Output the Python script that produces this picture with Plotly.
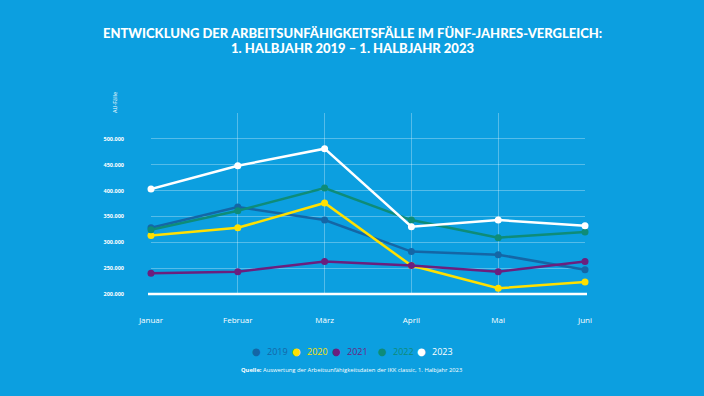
import plotly.graph_objects as go

months = ["Januar", "Februar", "März", "April", "Mai", "Juni"]
years = ["2019", "2020", "2021", "2022", "2023"]
v2019 = [328000, 368000, 343000, 282000, 276000, 247000]
v2020 = [313000, 328000, 376000, 255000, 211000, 223000]
v2021 = [240000, 243000, 263000, 255000, 243000, 263000]
v2022 = [324000, 361000, 405000, 343000, 309000, 320000]
v2023 = [403000, 448000, 481000, 330000, 343000, 332000]
series = [v2019, v2020, v2021, v2022, v2023]
colors = ["#1466A6", "#FFE000", "#6B1F7E", "#0E8C78", "#FFFFFF"]
tickvals = [200000, 250000, 300000, 350000, 400000, 450000, 500000, 550000]
ticktext = ["200.000", "250.000", "300.000", "350.000", "400.000", "450.000", "500.000", ""]

BG = "#0C9FE0"
L, R, T, B = 151, 119, 113, 102
pw = 704 - L - R
ph = 396 - T - B


def px(x):
    return (x - L) / pw


def py(y):
    return (396 - B - y) / ph


fig = go.Figure()
for yr, vals, c in zip(years, series, colors):
    fig.add_trace(go.Scatter(
        x=months, y=vals, mode="lines+markers", name=yr, showlegend=False,
        line=dict(color=c, width=2.5), marker=dict(color=c, size=7),
        cliponaxis=False))

annotations = [
    dict(text="AU-Fälle", x=px(115), y=py(103), xref="paper", yref="paper",
         xanchor="center", yanchor="middle",
         showarrow=False, textangle=-90, font=dict(size=5.5, color="white")),
    dict(text="<b>Quelle:</b> Auswertung der Arbeitsunfähigkeitsdaten der IKK classic, 1. Halbjahr 2023",
         x=px(351), y=py(370), xref="paper", yref="paper", xanchor="center",
         yanchor="middle", showarrow=False, font=dict(size=5.8, color="white")),
    dict(text="ENTWICKLUNG DER ARBEITSUNFÄHIGKEITSFÄLLE IM FÜNF-JAHRES-VERGLEICH:",
         x=px(352), y=py(33), xref="paper", yref="paper", xanchor="center",
         yanchor="middle", showarrow=False,
         font=dict(family="Lato", size=13, color="white", weight=900)),
    dict(text="1. HALBJAHR 2019 – 1. HALBJAHR 2023",
         x=px(352), y=py(48), xref="paper", yref="paper", xanchor="center",
         yanchor="middle", showarrow=False,
         font=dict(family="Lato", size=13, color="white", weight=900)),
]
legend_x = [256, 296, 336, 382, 421]
for yr, c, lx in zip(years, colors, legend_x):
    annotations.append(dict(text="●", x=px(lx), y=py(351), xref="paper", yref="paper",
                            xanchor="center", yanchor="middle", showarrow=False,
                            font=dict(family="DejaVu Sans", size=10, color=c)))
    annotations.append(dict(text=yr, x=px(lx + 9), y=py(351), xref="paper", yref="paper",
                            xanchor="left", yanchor="middle", showarrow=False,
                            font=dict(size=9, color=c)))

fig.update_layout(
    width=704, height=396,
    paper_bgcolor=BG, plot_bgcolor=BG,
    margin=dict(l=L, r=R, t=T, b=B),
    font=dict(family="Open Sans", color="white"),
    showlegend=False,
    xaxis=dict(
        type="category", range=[0, 5], showgrid=True,
        gridcolor="rgba(255,255,255,0.3)", gridwidth=1,
        showline=False,
        ticks="", ticklabelstandoff=20,
        tickfont=dict(size=8, color="white"), zeroline=False),
    yaxis=dict(
        range=[200000, 550000], tickvals=tickvals, ticktext=ticktext,
        showgrid=True, gridcolor="rgba(255,255,255,0.3)", gridwidth=1,
        zeroline=False, showline=False, ticks="", ticklabelstandoff=26,
        tickfont=dict(size=5.5, color="white", weight="bold")),
    shapes=[dict(type="line", xref="paper", yref="paper", x0=px(148), x1=px(587),
                 y0=0, y1=0, line=dict(color="white", width=2.5),
                 layer="above")],
    annotations=annotations,
)

fig.write_html("out.html", config={"displayModeBar": False},
               post_script="document.body.style.margin='0';document.body.style.overflow='hidden';")
